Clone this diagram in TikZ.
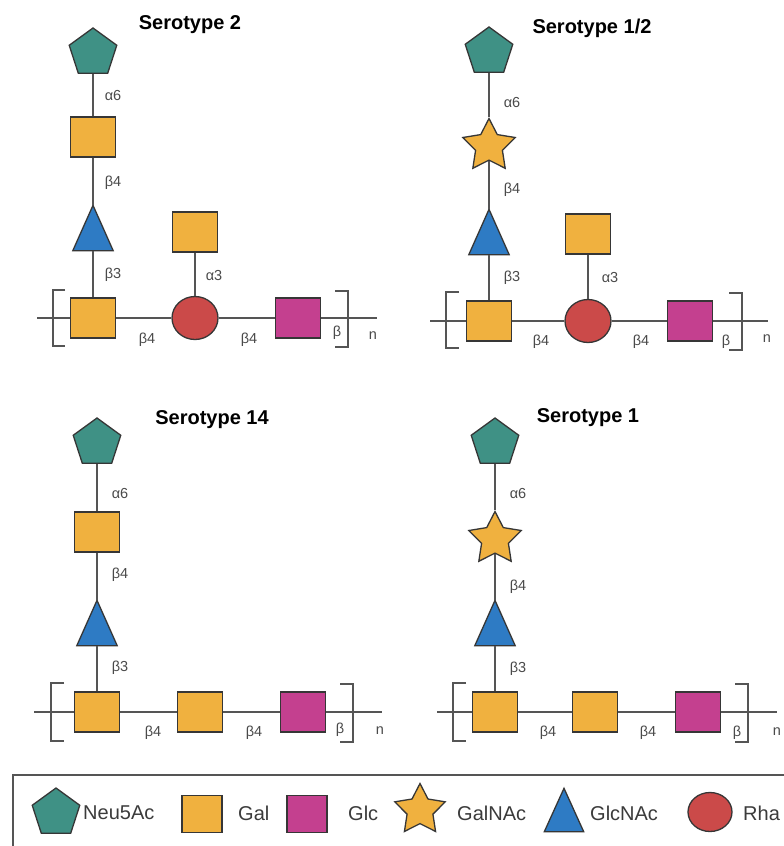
\documentclass[tikz,border=0pt]{standalone}
\usepackage{fontspec}
\setmainfont{Liberation Sans}
\usetikzlibrary{shapes.geometric}
\definecolor{neuc}{HTML}{3F9185}
\definecolor{galc}{HTML}{F0B13F}
\definecolor{glcc}{HTML}{C4408F}
\definecolor{bluc}{HTML}{2E7BC4}
\definecolor{rhac}{HTML}{CB4A49}
\definecolor{linec}{HTML}{555555}
\definecolor{bordc}{HTML}{363636}
\definecolor{labc}{HTML}{4A4A4A}
\tikzset{
  sugar/.style={draw=bordc, line width=1.3pt, inner sep=0pt},
  neu/.style={sugar, regular polygon, regular polygon sides=5, minimum size=50pt, fill=neuc},
  galsq/.style={sugar, rectangle, minimum width=45pt, minimum height=40pt, fill=galc},
  glcsq/.style={sugar, rectangle, minimum width=45pt, minimum height=40pt, fill=glcc},
  rha/.style={sugar, ellipse, minimum width=46pt, minimum height=43pt, fill=rhac},
  galnac/.style={sugar, star, star points=5, star point ratio=1.95, minimum size=55pt, fill=galc, line join=miter},
  trispace/.style={rectangle, inner sep=0pt, minimum width=40pt, minimum height=45pt},
  tridraw/.style={draw=bordc, line width=1.3pt, fill=bluc, line join=miter},
  link/.style={draw=linec, line width=1.6pt},
  brack/.style={draw=linec, line width=1.6pt},
  lab/.style={text=labc, font=\fontsize{14.5}{16}\selectfont, inner sep=0pt},
  ttl/.style={font=\fontsize{20}{24}\selectfont\bfseries, inner sep=0pt},
  legtxt/.style={font=\fontsize{20}{24}\selectfont, text=labc!80!black, anchor=west, inner sep=0pt}
}
\newcommand\glcnacnode[4][]{\node[trispace,#1] (#2) at (#3,#4) {};
  \draw[tridraw] (#2.south west) -- (#2.north) -- (#2.south east) -- cycle;}
\begin{document}
\begin{tikzpicture}[x=1pt,y=-1pt]
\useasboundingbox (0,0) rectangle (784,846);
\fill[white] (0,0) rectangle (784,846);

% ---------------- Serotype 2 ----------------
\node[ttl] (t1) at (190,25) {Serotype 2};
\node[neu] (a1) at (93,53) {};
\node[galsq] (a2) at (93,137) {};
\glcnacnode{a3}{93}{228}
\node[galsq] (a4) at (93,318) {};
\node[rha] (a5) at (195,318) {};
\node[galsq] (a6) at (195,232) {};
\node[glcsq] (a7) at (298,318) {};
\coordinate (aL) at (37,318);
\coordinate (aR) at (377,318);
\draw[link] (a1) -- (a2);
\draw[link] (a2) -- (a3);
\draw[link] (a3) -- (a4);
\draw[link] (a6) -- (a5);
\draw[link] (aL) -- (a4);
\draw[link] (a4) -- (a5);
\draw[link] (a5) -- (a7);
\draw[link] (a7) -- (aR);
\draw[brack] (65,290) -- (53,290) -- (53,346) -- (65,346);
\draw[brack] (335,291) -- (348,291) -- (348,347) -- (335,347);
\node[lab] (a1l) at (113,96) {α6};
\node[lab] (a2l) at (113,183) {β4};
\node[lab] (a3l) at (113,275) {β3};
\node[lab] (a4l) at (214,276) {α3};
\node[lab] (a5l) at (147,340) {β4};
\node[lab] (a6l) at (249,340) {β4};
\node[lab] (a7l) at (337,333) {β};
\node[lab] (a8l) at (373,336) {n};

% ---------------- Serotype 1/2 ----------------
\node[ttl] (t2) at (592,28) {Serotype 1/2};
\node[neu] (b1) at (489,52) {};
\node[galnac] (b2) at (489,146) {};
\glcnacnode{b3}{489}{232}
\node[galsq] (b4) at (489,321) {};
\node[rha] (b5) at (588,321) {};
\node[galsq] (b6) at (588,234) {};
\node[glcsq] (b7) at (690,321) {};
\coordinate (bL) at (430,321);
\coordinate (bR) at (768,321);
\draw[link] (b1) -- (b2);
\draw[link] (b2) -- (b3);
\draw[link] (b3) -- (b4);
\draw[link] (b6) -- (b5);
\draw[link] (bL) -- (b4);
\draw[link] (b4) -- (b5);
\draw[link] (b5) -- (b7);
\draw[link] (b7) -- (bR);
\draw[brack] (459,292) -- (446,292) -- (446,348) -- (459,348);
\draw[brack] (729,293) -- (742,293) -- (742,350) -- (729,350);
\node[lab] (b1l) at (512,103) {α6};
\node[lab] (b2l) at (512,190) {β4};
\node[lab] (b3l) at (512,278) {β3};
\node[lab] (b4l) at (610,278) {α3};
\node[lab] (b5l) at (541,342) {β4};
\node[lab] (b6l) at (641,342) {β4};
\node[lab] (b7l) at (726,342) {β};
\node[lab] (b8l) at (767,339) {n};

% ---------------- Serotype 14 ----------------
\node[ttl] (t3) at (212,420) {Serotype 14};
\node[neu] (c1) at (97,443) {};
\node[galsq] (c2) at (97,532) {};
\glcnacnode{c3}{97}{623}
\node[galsq] (c4) at (97,712) {};
\node[galsq] (c5) at (200,712) {};
\node[glcsq] (c6) at (303,712) {};
\coordinate (cL) at (34,712);
\coordinate (cR) at (382,712);
\draw[link] (c1) -- (c2);
\draw[link] (c2) -- (c3);
\draw[link] (c3) -- (c4);
\draw[link] (cL) -- (c4);
\draw[link] (c4) -- (c5);
\draw[link] (c5) -- (c6);
\draw[link] (c6) -- (cR);
\draw[brack] (64,683) -- (51,683) -- (51,741) -- (64,741);
\draw[brack] (340,684) -- (353,684) -- (353,742) -- (340,742);
\node[lab] (c1l) at (120,494) {α6};
\node[lab] (c2l) at (120,575) {β4};
\node[lab] (c3l) at (120,668) {β3};
\node[lab] (c5l) at (153,733) {β4};
\node[lab] (c6l) at (254,733) {β4};
\node[lab] (c7l) at (340,730) {β};
\node[lab] (c8l) at (380,731) {n};

% ---------------- Serotype 1 ----------------
\node[ttl] (t4) at (588,418) {Serotype 1};
\node[neu] (d1) at (495,443) {};
\node[galnac] (d2) at (495,539) {};
\glcnacnode{d3}{495}{623}
\node[galsq] (d4) at (495,712) {};
\node[galsq] (d5) at (595,712) {};
\node[glcsq] (d6) at (698,712) {};
\coordinate (dL) at (437,712);
\coordinate (dR) at (777,712);
\draw[link] (d1) -- (d2);
\draw[link] (d2) -- (d3);
\draw[link] (d3) -- (d4);
\draw[link] (dL) -- (d4);
\draw[link] (d4) -- (d5);
\draw[link] (d5) -- (d6);
\draw[link] (d6) -- (dR);
\draw[brack] (466,683) -- (453,683) -- (453,741) -- (466,741);
\draw[brack] (735,684) -- (748,684) -- (748,742) -- (735,742);
\node[lab] (d1l) at (518,494) {α6};
\node[lab] (d2l) at (518,587) {β4};
\node[lab] (d3l) at (518,669) {β3};
\node[lab] (d5l) at (548,733) {β4};
\node[lab] (d6l) at (648,733) {β4};
\node[lab] (d7l) at (737,733) {β};
\node[lab] (d8l) at (777,732) {n};

% ---------------- Legend ----------------
\draw[draw=linec, line width=1.6pt] (790,775) -- (13,775) -- (13,850);
\node[neu, minimum size=50pt] (e1) at (56,813) {};
\node[legtxt] (e1t) at (83,813) {Neu5Ac};
\node[galsq, minimum width=40pt, minimum height=37pt] (e2) at (202,814) {};
\node[legtxt] (e2t) at (238,813) {Gal};
\node[glcsq, minimum width=40pt, minimum height=37pt] (e3) at (307,814) {};
\node[legtxt] (e3t) at (348,813) {Glc};
\node[galnac, minimum size=53pt] (e4) at (420,810) {};
\node[legtxt] (e4t) at (457,813) {GalNAc};
\glcnacnode[minimum width=39pt, minimum height=43pt]{e5}{564}{810}
\node[legtxt] (e5t) at (590,813) {GlcNAc};
\node[rha, minimum width=44pt, minimum height=39pt] (e6) at (710,812) {};
\node[legtxt] (e6t) at (743,813) {Rha};
\end{tikzpicture}
\end{document}
